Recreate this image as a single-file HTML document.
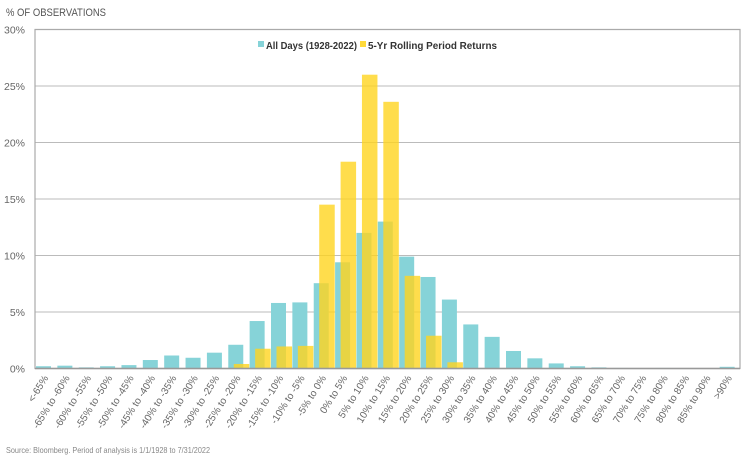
<!DOCTYPE html>
<html><head><meta charset="utf-8"><style>
html,body{margin:0;padding:0;background:#fff;}
svg{display:block;font-family:"Liberation Sans Narrow","Liberation Sans",sans-serif;}
</style></head><body>
<svg id="c" width="753" height="460" xmlns="http://www.w3.org/2000/svg">
<text x="6" y="16" font-size="11" fill="#555" textLength="100" lengthAdjust="spacingAndGlyphs">% OF OBSERVATIONS</text>
<text x="6" y="453" font-size="8.5" fill="#888" textLength="204" lengthAdjust="spacingAndGlyphs">Source: Bloomberg. Period of analysis is 1/1/1928 to 7/31/2022</text>
<g id="g"></g>
<rect x="258" y="41" width="6" height="6" fill="#86D3D8"/>
<text x="266" y="49" font-size="10.5" font-weight="bold" fill="#333" textLength="91" lengthAdjust="spacingAndGlyphs">All Days (1928-2022)</text>
<rect x="360" y="41" width="6" height="6" fill="#FFDA3A"/>
<text x="368" y="49" font-size="10.5" font-weight="bold" fill="#333" textLength="129" lengthAdjust="spacingAndGlyphs">5-Yr Rolling Period Returns</text>
</svg>
<script>
var g=document.getElementById('g'),s='';
var L=35,R=740,B=368.5,T=29.5,py=(B-T)/30,n=33,cw=(R-L)/n;
for(var k=1;k<=6;k++){var y=B-k*5*py;s+='<line x1="'+L+'" x2="'+R+'" y1="'+y+'" y2="'+y+'" stroke="#bbb" stroke-width="1"/>';}
for(var k=0;k<=6;k++){var y=B-k*5*py;s+='<text x="25" y="'+(y+4)+'" font-size="10.5" fill="#666" text-anchor="end">'+(k*5)+'%</text>';}
var a=[0.2,0.25,0.1,0.2,0.3,0.75,1.15,0.95,1.4,2.1,4.2,5.8,5.85,7.55,9.4,12.0,13.0,9.9,8.1,6.1,3.9,2.8,1.55,0.9,0.45,0.2,0.1,0.05,0,0.05,0,0,0.15];
var b={9:0.4,10:1.75,11:1.95,12:2.0,13:14.5,14:18.3,15:26.0,16:23.6,17:8.2,18:2.9,19:0.55};
var labs=['<-65%'];for(var v=-65;v<90;v+=5)labs.push(v+'% to '+(v+5)+'%');labs.push('>90%');
for(var i=0;i<n;i++){var x=L+i*cw;var h=a[i]*py;
if(h>0)s+='<rect x="'+(x+1)+'" y="'+(B-h)+'" width="15" height="'+h+'" fill="#86D3D8"/>';
if(b[i]){var h2=b[i]*py;s+='<rect x="'+(x+6.5)+'" y="'+(B-h2)+'" width="15.5" height="'+h2+'" fill="#FFD51F" fill-opacity="0.8"/>';}
var cx=x+cw/2+3;var t=labs[i].replace('<','&lt;').replace('>','&gt;');
s+='<text transform="translate('+cx+',378) rotate(-58)" font-size="10" fill="#666" text-anchor="end">'+t+'</text>';}
s+='<path d="M'+L+' '+T+'H'+R+'V'+B+'H'+L+'Z" fill="none" stroke="#aaa" stroke-width="1.2"/>';
s+='<line x1="'+L+'" x2="'+R+'" y1="'+B+'" y2="'+B+'" stroke="#999" stroke-width="1.5"/>';
g.innerHTML=s;
</script>
</body></html>
